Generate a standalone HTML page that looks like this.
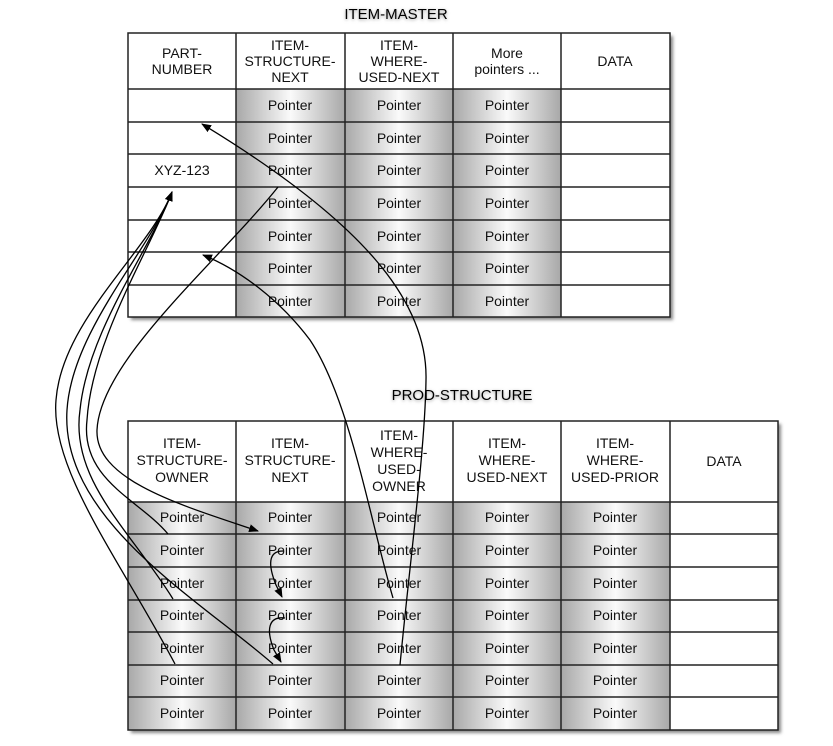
<!DOCTYPE html>
<html><head><meta charset="utf-8"><style>
body{margin:0;background:#fff;}
svg{display:block;font-family:"Liberation Sans",sans-serif;}
</style></head><body>
<svg width="833" height="746" viewBox="0 0 833 746" xmlns="http://www.w3.org/2000/svg">
<defs>
<linearGradient id="g" x1="0" x2="1" y1="0" y2="0">
<stop offset="0" stop-color="#a8a8a8"/><stop offset="0.5" stop-color="#fafafa"/><stop offset="1" stop-color="#a8a8a8"/>
</linearGradient>
<marker id="ar" markerWidth="10" markerHeight="10" refX="9" refY="5" orient="auto" markerUnits="userSpaceOnUse">
<path d="M0,1 L10,5 L0,9 z" fill="#000"/></marker>
<filter id="sh"><feGaussianBlur stdDeviation="1.5"/></filter>
</defs>
<!-- titles -->
<text x="396" y="20" font-size="15" text-anchor="middle" fill="#999" filter="url(#sh)">ITEM-MASTER</text>
<text x="396" y="19" font-size="15" text-anchor="middle">ITEM-MASTER</text>
<text x="462" y="401" font-size="15" text-anchor="middle" fill="#999" filter="url(#sh)">PROD-STRUCTURE</text>
<text x="462" y="400" font-size="15" text-anchor="middle">PROD-STRUCTURE</text>

<!-- top table -->
<rect x="131" y="36" width="542" height="284" fill="#888" filter="url(#sh)"/>
<rect x="128" y="33" width="542" height="284" fill="#fff"/>
<rect x="236" y="89" width="109" height="228" fill="url(#g)"/>
<rect x="345" y="89" width="108" height="228" fill="url(#g)"/>
<rect x="453" y="89" width="108" height="228" fill="url(#g)"/>
<g stroke="#222" stroke-width="1.5" fill="none">
<rect x="128" y="33" width="542" height="284"/>
<path d="M236 33V317M345 33V317M453 33V317M561 33V317"/>
<path d="M128 89H670M128 122H670M128 154H670M128 187H670M128 220H670M128 252H670M128 285H670"/>
</g>
<g font-size="14" text-anchor="middle" fill="#111">
<text x="182" y="58">PART-</text><text x="182" y="74">NUMBER</text>
<text x="290" y="50">ITEM-</text><text x="290" y="66">STRUCTURE-</text><text x="290" y="82">NEXT</text>
<text x="399" y="50">ITEM-</text><text x="399" y="66">WHERE-</text><text x="399" y="82">USED-NEXT</text>
<text x="507" y="58">More</text><text x="507" y="74">pointers ...</text>
<text x="615" y="66">DATA</text>
<text x="182" y="175">XYZ-123</text>
<g>
<text x="290" y="110">Pointer</text><text x="399" y="110">Pointer</text><text x="507" y="110">Pointer</text>
<text x="290" y="143">Pointer</text><text x="399" y="143">Pointer</text><text x="507" y="143">Pointer</text>
<text x="290" y="175">Pointer</text><text x="399" y="175">Pointer</text><text x="507" y="175">Pointer</text>
<text x="290" y="208">Pointer</text><text x="399" y="208">Pointer</text><text x="507" y="208">Pointer</text>
<text x="290" y="241">Pointer</text><text x="399" y="241">Pointer</text><text x="507" y="241">Pointer</text>
<text x="290" y="273">Pointer</text><text x="399" y="273">Pointer</text><text x="507" y="273">Pointer</text>
<text x="290" y="306">Pointer</text><text x="399" y="306">Pointer</text><text x="507" y="306">Pointer</text>
</g></g>

<!-- bottom table -->
<rect x="131" y="424" width="650" height="309" fill="#888" filter="url(#sh)"/>
<rect x="128" y="421" width="650" height="309" fill="#fff"/>
<rect x="128" y="502" width="108" height="228" fill="url(#g)"/>
<rect x="236" y="502" width="109" height="228" fill="url(#g)"/>
<rect x="345" y="502" width="108" height="228" fill="url(#g)"/>
<rect x="453" y="502" width="108" height="228" fill="url(#g)"/>
<rect x="561" y="502" width="109" height="228" fill="url(#g)"/>
<g stroke="#222" stroke-width="1.5" fill="none">
<rect x="128" y="421" width="650" height="309"/>
<path d="M236 421V730M345 421V730M453 421V730M561 421V730M670 421V730"/>
<path d="M128 502H778M128 534H778M128 567H778M128 600H778M128 632H778M128 665H778M128 697H778"/>
</g>
<g font-size="14" text-anchor="middle" fill="#111">
<text x="182" y="448">ITEM-</text><text x="182" y="465">STRUCTURE-</text><text x="182" y="482">OWNER</text>
<text x="290" y="448">ITEM-</text><text x="290" y="465">STRUCTURE-</text><text x="290" y="482">NEXT</text>
<text x="399" y="440">ITEM-</text><text x="399" y="457">WHERE-</text><text x="399" y="474">USED-</text><text x="399" y="491">OWNER</text>
<text x="507" y="448">ITEM-</text><text x="507" y="465">WHERE-</text><text x="507" y="482">USED-NEXT</text>
<text x="615" y="448">ITEM-</text><text x="615" y="465">WHERE-</text><text x="615" y="482">USED-PRIOR</text>
<text x="724" y="466">DATA</text>
<text x="182" y="522">Pointer</text><text x="290" y="522">Pointer</text><text x="399" y="522">Pointer</text><text x="507" y="522">Pointer</text><text x="615" y="522">Pointer</text>
<text x="182" y="555">Pointer</text><text x="290" y="555">Pointer</text><text x="399" y="555">Pointer</text><text x="507" y="555">Pointer</text><text x="615" y="555">Pointer</text>
<text x="182" y="588">Pointer</text><text x="290" y="588">Pointer</text><text x="399" y="588">Pointer</text><text x="507" y="588">Pointer</text><text x="615" y="588">Pointer</text>
<text x="182" y="620">Pointer</text><text x="290" y="620">Pointer</text><text x="399" y="620">Pointer</text><text x="507" y="620">Pointer</text><text x="615" y="620">Pointer</text>
<text x="182" y="653">Pointer</text><text x="290" y="653">Pointer</text><text x="399" y="653">Pointer</text><text x="507" y="653">Pointer</text><text x="615" y="653">Pointer</text>
<text x="182" y="685">Pointer</text><text x="290" y="685">Pointer</text><text x="399" y="685">Pointer</text><text x="507" y="685">Pointer</text><text x="615" y="685">Pointer</text>
<text x="182" y="718">Pointer</text><text x="290" y="718">Pointer</text><text x="399" y="718">Pointer</text><text x="507" y="718">Pointer</text><text x="615" y="718">Pointer</text>
</g>

<!-- connectors -->
<g stroke="#000" stroke-width="1.3" fill="none">
<!-- to XYZ-123 -->
<path d="M168,534 C140,500 80,480 87,420 C92,340 150,250 172,192" marker-end="url(#ar)"/>
<path d="M173,599 C130,530 70,480 80,410 C88,330 150,250 172,192" marker-end="url(#ar)"/>
<path d="M175,664 C120,560 50,470 56,400 C62,320 150,250 172,192" marker-end="url(#ar)"/>
<path d="M273,664 C200,600 60,520 67,410 C72,330 150,250 172,192"/>
<!-- ITEM-STRUCTURE-NEXT top row -> prod structure row 1 -->
<path d="M278,187 C220,260 100,360 97,430 C95,480 180,505 258,531" marker-end="url(#ar)"/>
<!-- where-used-owner -> part rows -->
<path d="M393,598 C370,520 350,400 310,340 C280,300 240,270 203,255" marker-end="url(#ar)"/>
<path d="M400,665 C410,560 425,450 426,380 C428,300 360,220 202,124" marker-end="url(#ar)"/>
<!-- small loops -->
<path d="M283,551 C268,551 268,565 276,585 L282,597" marker-end="url(#ar)"/>
<path d="M285,618 C268,616 266,630 274,650 L281,662" marker-end="url(#ar)"/>
</g>
</svg>
</body></html>
